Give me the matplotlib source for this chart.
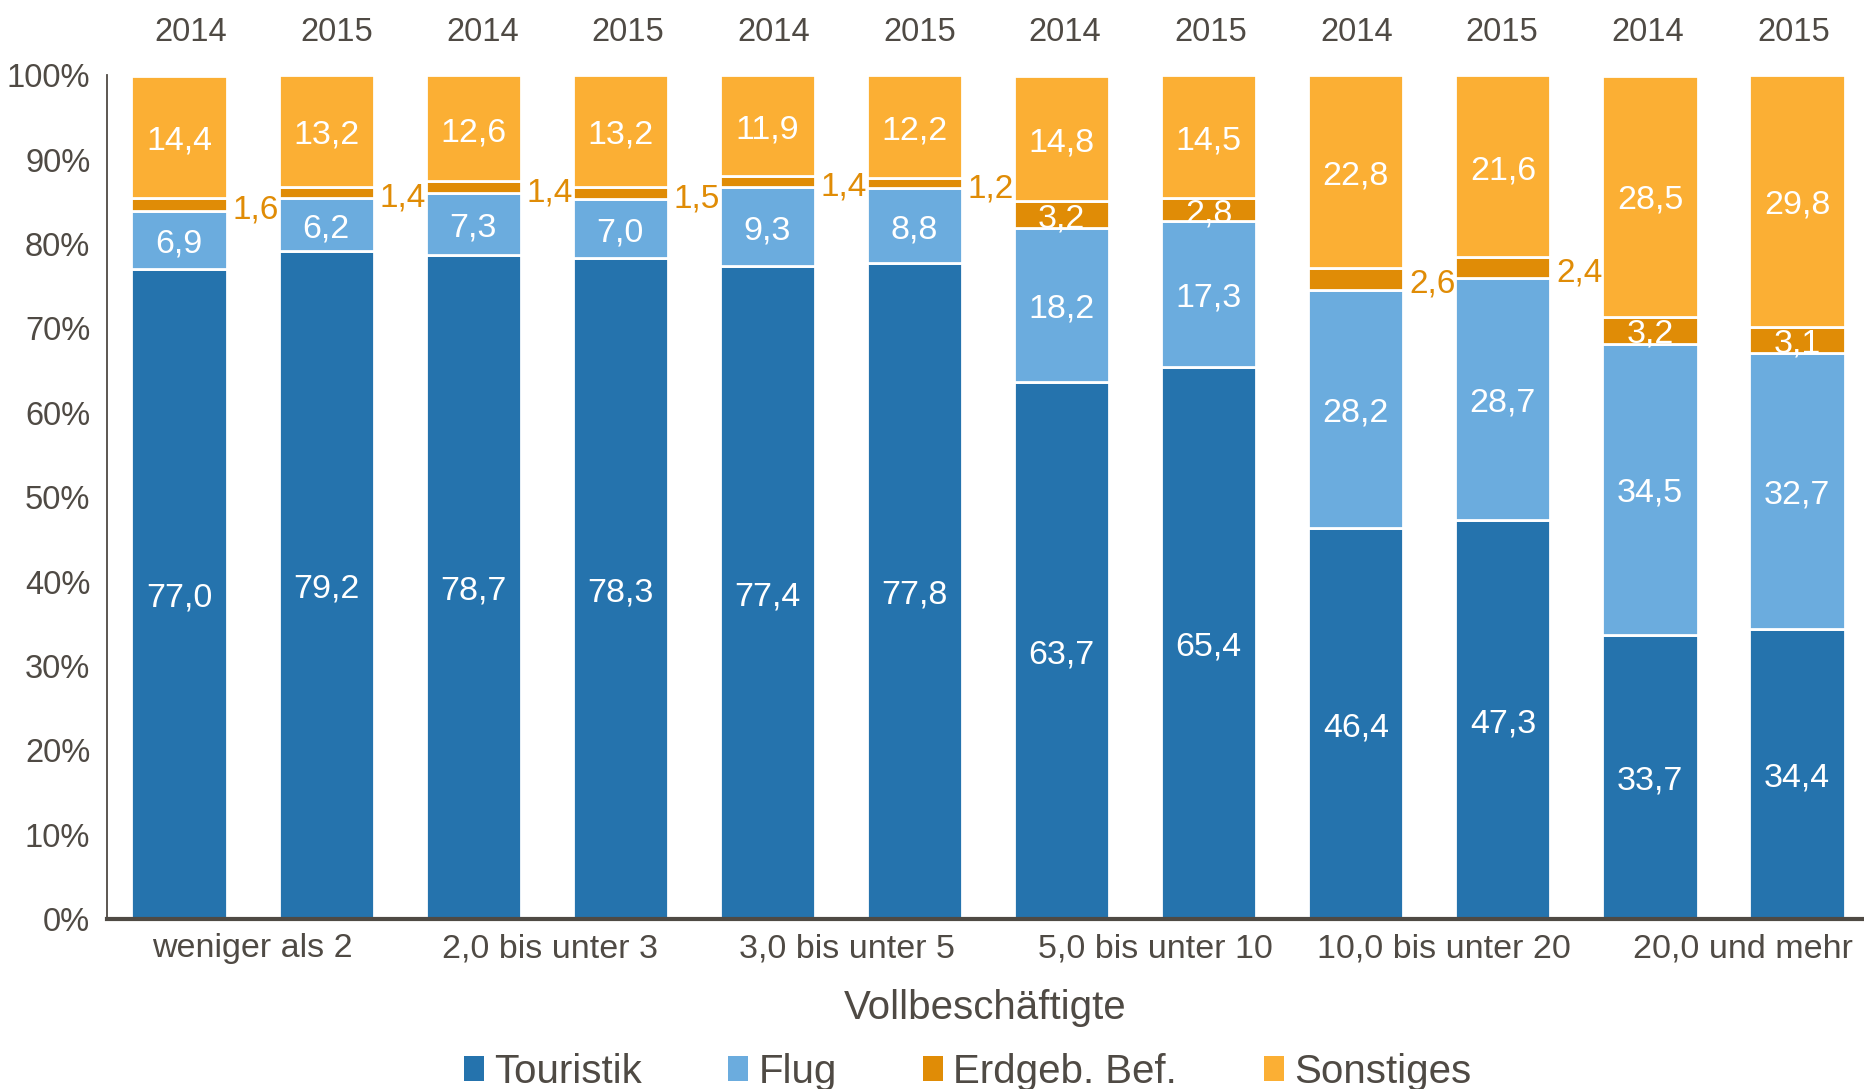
import matplotlib.pyplot as plt
from matplotlib.patches import Patch

plt.rcParams['font.family'] = ['Liberation Sans', 'DejaVu Sans']

# Data
groups = ['weniger als 2', '2,0 bis unter 3', '3,0 bis unter 5',
          '5,0 bis unter 10', '10,0 bis unter 20', '20,0 und mehr']
years = ['2014', '2015'] * 6
touristik = [77.0, 79.2, 78.7, 78.3, 77.4, 77.8, 63.7, 65.4, 46.4, 47.3, 33.7, 34.4]
flug = [6.9, 6.2, 7.3, 7.0, 9.3, 8.8, 18.2, 17.3, 28.2, 28.7, 34.5, 32.7]
erdgeb = [1.6, 1.4, 1.4, 1.5, 1.4, 1.2, 3.2, 2.8, 2.6, 2.4, 3.2, 3.1]
sonstiges = [14.4, 13.2, 12.6, 13.2, 11.9, 12.2, 14.8, 14.5, 22.8, 21.6, 28.5, 29.8]

c_tour = '#2573AD'
c_flug = '#6BACDE'
c_erd = '#E08C06'
c_son = '#FBAF34'
txt = '#4F4A44'

fig = plt.figure(figsize=(18.64, 10.89), dpi=100)
ax = fig.add_axes([0.0574, 0.156, 0.9426, 0.775])

x = list(range(len(touristik)))
w = 0.647
series = [('Touristik', touristik, c_tour), ('Flug', flug, c_flug),
          ('Erdgeb. Bef.', erdgeb, c_erd), ('Sonstiges', sonstiges, c_son)]
bottom = [0.0] * len(x)
for name, vals, col in series:
    ax.bar(x, vals, w, bottom=bottom, color=col, edgecolor='white', linewidth=2)
    for i, v in enumerate(vals):
        lab = f'{v:.1f}'.replace('.', ',')
        yc = bottom[i] + v / 2
        if name == 'Erdgeb. Bef.' and v < 2.7:
            ax.text(i + w / 2 + 0.04, yc - 0.7, lab, ha='left', va='center',
                    color=c_erd, fontsize=24)
        else:
            ax.text(i, yc - 0.5, lab, ha='center', va='center', color='white', fontsize=24.5)
    bottom = [b + v for b, v in zip(bottom, vals)]

# year labels above bars (slightly tighter pitch than the bars, as in the original)
for i, yr in enumerate(years):
    ax.text(i + 0.081 - 0.0097 * i, 105.0, yr, ha='center', va='center', color=txt,
            fontsize=23.5, clip_on=False)

ax.set_xlim(-0.49, 11.455)
ax.set_ylim(0, 100)
ax.set_yticks(range(0, 101, 10))
ax.set_yticklabels([f'{t}%' for t in range(0, 101, 10)])
shift = [0, 0.02, 0.04, 0.14, 0.1, 0.13]
ax.set_xticks([0.5 + 2 * k + shift[k] for k in range(6)])
ax.set_xticklabels(groups)
ax.tick_params(axis='both', length=0, labelsize=23.5, colors=txt)
ax.tick_params(axis='x', labelsize=24.5, pad=10)
ax.tick_params(axis='y', pad=12)

for s in ['top', 'right']:
    ax.spines[s].set_visible(False)
ax.spines['bottom'].set_color(txt)
ax.spines['bottom'].set_linewidth(3)
ax.spines['left'].set_color(txt)
ax.spines['left'].set_linewidth(1.3)

ax.set_xlabel('Vollbeschäftigte', fontsize=29, color=txt, labelpad=18)

handles = [Patch(facecolor=c, edgecolor='none') for _, _, c in series]
fig.legend(handles, [n for n, _, _ in series], loc='lower center',
           bbox_to_anchor=(0.519, -0.035), ncol=4, frameon=False, fontsize=29,
           handlelength=0.5, handleheight=0.6, handletextpad=0.25,
           columnspacing=2.15, labelcolor=txt)

fig.savefig('out.png', dpi=100)
